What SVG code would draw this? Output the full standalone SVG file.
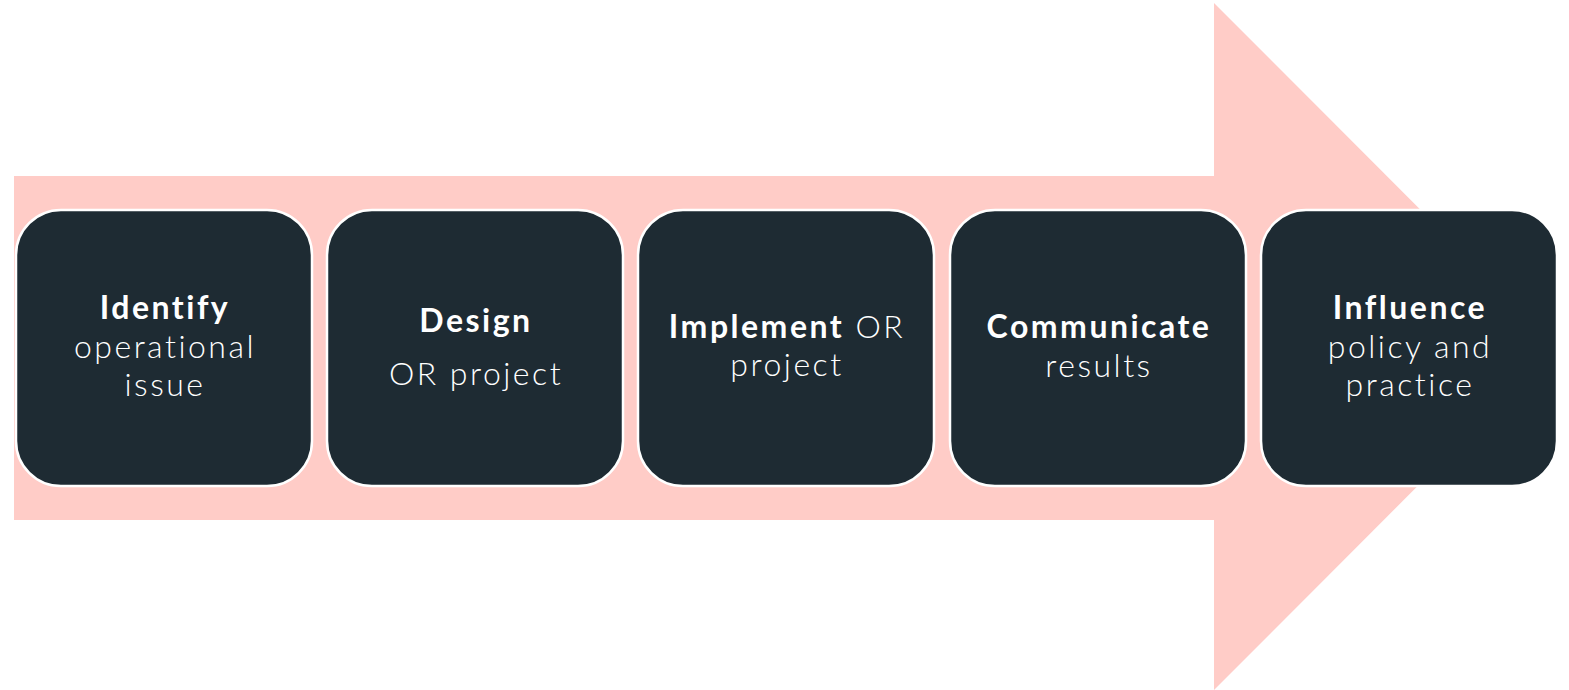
<svg xmlns="http://www.w3.org/2000/svg" width="1569" height="690" viewBox="0 0 1569 690">
<style>
.box{fill:#1e2b33;stroke:#ffffff;stroke-width:2.5}
.t{font-family:Lato,"Open Sans",sans-serif;font-size:32px;fill:#ffffff;text-anchor:middle;letter-spacing:2.5px}
.b{font-weight:bold}
.r{font-weight:300}
</style>
<rect width="1569" height="690" fill="#ffffff"/>
<g id="connectors">
<polygon points="14,176 1214,176 1214,3 1557,346.5 1214,690 1214,520 14,520" fill="#ffccc7"/>
</g>
<g id="node1">
<rect class="box" x="16" y="210" width="296" height="276" rx="45"/>
<text class="t"><tspan class="b" x="165" y="319">Identify</tspan><tspan class="r" x="165" y="358">operational</tspan><tspan class="r" x="165" y="396">issue</tspan></text>
</g>
<g id="node2">
<rect class="box" x="327" y="210" width="296" height="276" rx="45"/>
<text class="t"><tspan class="b" x="476" y="332">Design</tspan><tspan class="r" x="476" y="385">OR project</tspan></text>
</g>
<g id="node3">
<rect class="box" x="638" y="210" width="296" height="276" rx="45"/>
<text class="t"><tspan class="b" x="787" y="338">Implement</tspan><tspan class="r"> OR</tspan><tspan class="r" x="787" y="376">project</tspan></text>
</g>
<g id="node4">
<rect class="box" x="950" y="210" width="296" height="276" rx="45"/>
<text class="t"><tspan class="b" x="1099" y="338">Communicate</tspan><tspan class="r" x="1099" y="377">results</tspan></text>
</g>
<g id="node5">
<rect class="box" x="1261" y="210" width="296" height="276" rx="45"/>
<text class="t"><tspan class="b" x="1410" y="319">Influence</tspan><tspan class="r" x="1410" y="358">policy and</tspan><tspan class="r" x="1410" y="396">practice</tspan></text>
</g>
</svg>
